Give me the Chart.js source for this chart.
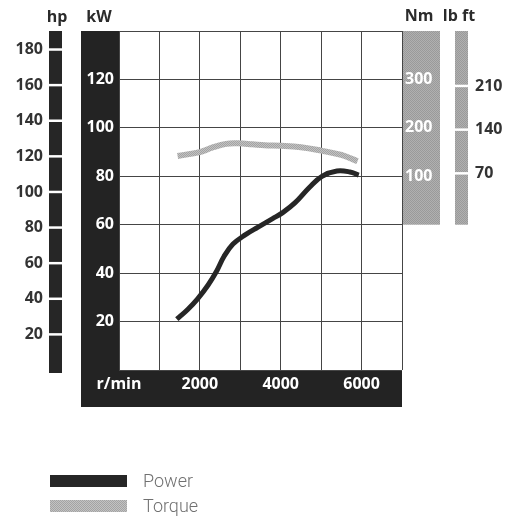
<!DOCTYPE html>
<html>
<head>
<meta charset="utf-8">
<script src="https://cdn.jsdelivr.net/npm/chart.js@4.4.0/dist/chart.umd.min.js"></script>
<style>
  body { margin: 0; background: #fff; }
  canvas { display: block; }
</style>
</head>
<body>
<canvas id="myChart" width="518" height="520"></canvas>
<script>
// power curve (kW over r/min)
const powerRpm = [1430, 1700, 1950, 2200, 2420, 2600, 2820, 3120, 3440, 3800, 4050, 4350, 4720, 5020, 5390, 5710, 5930];
const powerKw = [21, 25, 29.5, 35, 41, 47, 52, 55.8, 59, 62.5, 65, 69, 75.6, 80, 82.2, 81.8, 80.5];

// torque curve (Nm over r/min)
const torqueRpm = [1450, 2000, 2300, 2650, 2950, 3300, 3600, 4000, 4500, 5000, 5500, 5900];
const torqueNm = [142, 150, 159, 167, 168, 166, 164, 163, 160, 153, 144, 131];

// axis ticks
const rpmLabels = [2000, 4000, 6000];
const kwTicks = [20, 40, 60, 80, 100, 120];
const hpTicks = [20, 40, 60, 80, 100, 120, 140, 160, 180];
const nmTicks = [100, 200, 300];
const lbftTicks = [70, 140, 210];

const BLACK = "#232323";
const FONT = "'Open Sans', sans-serif";

// fine halftone texture like the printed grey
function makePattern(light, dark) {
  const c = document.createElement("canvas");
  c.width = 2;
  c.height = 2;
  const g = c.getContext("2d");
  g.fillStyle = light;
  g.fillRect(0, 0, 2, 2);
  g.fillStyle = dark;
  g.fillRect(0, 0, 1, 1);
  g.fillRect(1, 1, 1, 1);
  return g.createPattern(c, "repeat");
}

const torqueFill = makePattern("#c2c2c2", "#a3a3a3");
const barFill = makePattern("#b0b0b0", "#9a9a9a");

// everything around the plot: frame, side bars, titles, legend
const decor = {
  id: "decor",
  beforeDraw(chart) {
    const { ctx, chartArea: a, scales } = chart;
    ctx.save();
    ctx.fillStyle = "#fff";
    ctx.fillRect(0, 0, chart.width, chart.height);

    // black frame for kW and r/min
    ctx.fillStyle = BLACK;
    ctx.fillRect(a.left - 38, a.top, 38, a.bottom - a.top + 37);
    ctx.fillRect(a.left - 38, a.bottom, a.right - a.left + 38, 37);

    // hp bar
    ctx.fillStyle = "#262626";
    ctx.fillRect(a.left - 70, a.top, 13, a.bottom - a.top + 3);

    // Nm and lb ft bars
    const nm0 = scales.yNm.getPixelForValue(0);
    ctx.fillStyle = barFill;
    ctx.fillRect(a.right, a.top, 38, nm0 - a.top);
    ctx.fillRect(a.right + 53, a.top, 13, nm0 - a.top);
    ctx.restore();
  },
  afterDraw(chart) {
    const { ctx, chartArea: a, scales } = chart;
    ctx.save();

    // titles
    ctx.fillStyle = "#2b2b2b";
    ctx.font = "bold 16px " + FONT;
    ctx.textAlign = "center";
    ctx.textBaseline = "middle";
    ctx.fillText("hp", a.left - 62, 17);
    ctx.fillText("kW", a.left - 20, 17);
    ctx.fillText("Nm", a.right + 17, 16);
    ctx.fillText("lb ft", a.right + 57, 16);

    // hp ticks
    ctx.font = "bold 16px " + FONT;
    ctx.textAlign = "right";
    ctx.strokeStyle = "#fff";
    ctx.lineWidth = 2.5;
    hpTicks.forEach((v) => {
      const y = scales.hp.getPixelForValue(v);
      ctx.beginPath();
      ctx.moveTo(a.left - 72, y);
      ctx.lineTo(a.left - 56, y);
      ctx.stroke();
      ctx.fillStyle = "#333";
      ctx.fillText(v, a.left - 76, y);
    });

    // Nm labels inside the bar
    ctx.textAlign = "left";
    ctx.fillStyle = "#fff";
    nmTicks.forEach((v) => {
      ctx.fillText(v, a.right + 3, scales.yNm.getPixelForValue(v));
    });

    // lb ft ticks
    lbftTicks.forEach((v) => {
      const y = scales.lbft.getPixelForValue(v);
      ctx.beginPath();
      ctx.moveTo(a.right + 52, y);
      ctx.lineTo(a.right + 67, y);
      ctx.stroke();
      ctx.fillStyle = "#333";
      ctx.fillText(v, a.right + 73, y);
    });

    // legend
    ctx.font = "300 18px Roboto, sans-serif";
    ctx.textBaseline = "middle";
    chart.data.datasets.forEach((ds, i) => {
      const y = 475 + i * 25;
      ctx.fillStyle = ds.legendFill;
      ctx.fillRect(50, y, 77, 12);
      ctx.fillStyle = "#707070";
      ctx.fillText(ds.label, 143, y + 7);
    });
    ctx.restore();
  },
};

const ctx = document.getElementById("myChart").getContext("2d");

const myChart = new Chart(ctx, {
  type: "line",
  data: {
    datasets: [
      {
        label: "Power",
        data: powerRpm.map((r, i) => ({ x: r, y: powerKw[i] })),
        yAxisID: "y",
        borderColor: "#262626",
        legendFill: "#262626",
        borderWidth: 5,
        pointRadius: 0,
        tension: 0.4,
      },
      {
        label: "Torque",
        data: torqueRpm.map((r, i) => ({ x: r, y: torqueNm[i] })),
        yAxisID: "yNm",
        borderColor: torqueFill,
        legendFill: torqueFill,
        borderWidth: 6,
        pointRadius: 0,
        tension: 0.4,
      },
    ],
  },
  options: {
    responsive: false,
    animation: false,
    layout: {
      padding: { left: 81, right: 116, top: 31, bottom: 113 },
    },
    plugins: {
      legend: { display: false },
      tooltip: { enabled: false },
    },
    scales: {
      x: {
        type: "linear",
        min: 0,
        max: 7000,
        afterFit: (scale) => {
          scale.height = 37;
        },
        border: { display: false },
        grid: { color: "#454545", lineWidth: 1, drawTicks: false },
        ticks: {
          stepSize: 1000,
          autoSkip: false,
          maxRotation: 0,
          padding: 5,
          color: "#fff",
          font: { family: FONT, size: 16, weight: "bold" },
          callback: (v) => (v === 0 ? "r/min" : rpmLabels.includes(v) ? v : ""),
        },
      },
      y: {
        position: "left",
        min: 0,
        max: 140,
        afterFit: (scale) => {
          scale.width = 38;
        },
        border: { display: false },
        grid: { color: "#454545", lineWidth: 1, drawTicks: false },
        ticks: {
          stepSize: 20,
          padding: 5,
          color: "#fff",
          font: { family: FONT, size: 16, weight: "bold" },
          callback: (v) => (kwTicks.includes(v) ? v : ""),
        },
      },
      yNm: { axis: "y", type: "linear", position: "right", display: false, min: -300, max: 400 },
      hp: { axis: "y", type: "linear", position: "left", display: false, min: 0, max: 140 * 1.36 },
      lbft: { axis: "y", type: "linear", position: "right", display: false, min: -245, max: 298 },
    },
  },
  plugins: [decor],
});
</script>
</body>
</html>
